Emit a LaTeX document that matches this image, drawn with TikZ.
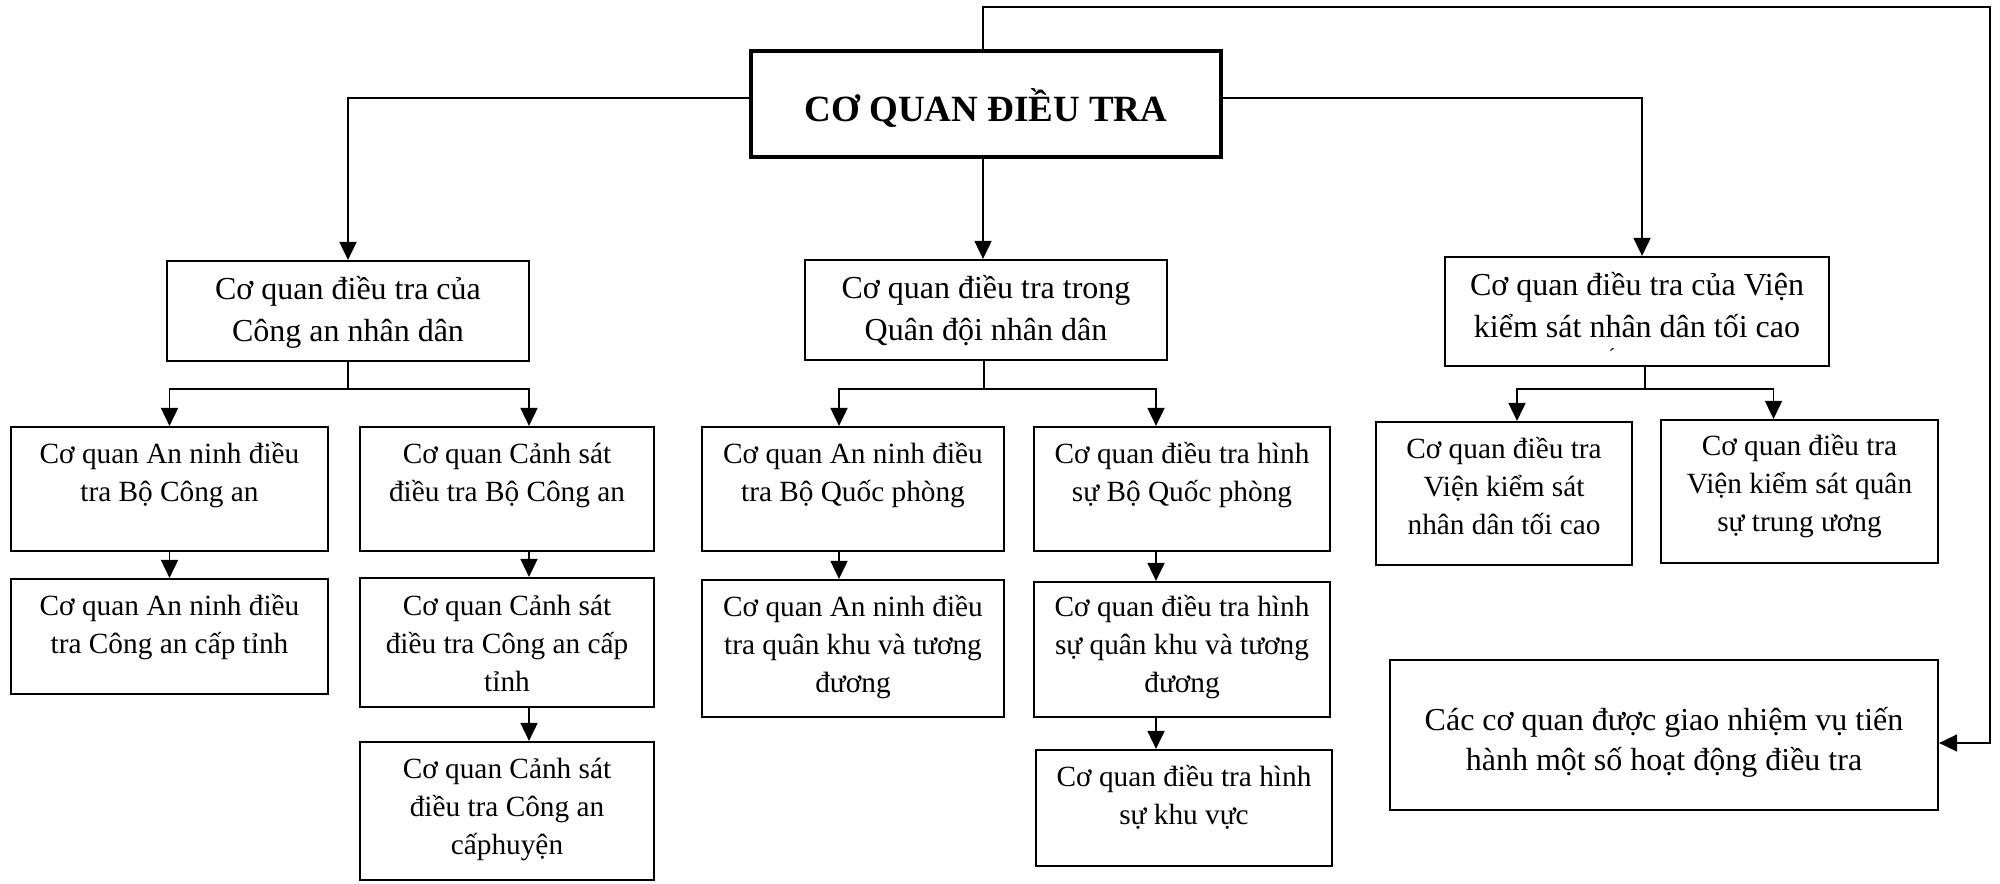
\documentclass[tikz,border=0pt]{standalone}
\usepackage{fontspec}
\setmainfont{Liberation Serif}
\usetikzlibrary{arrows.meta,fit}
\newcommand\ltwo{\fontsize{16pt}{21pt}\selectfont}
\newcommand\lthree{\fontsize{14.65pt}{19pt}\selectfont}
\newcommand\lf{\fontsize{16pt}{19.75pt}\selectfont}
\tikzset{
  bx/.style={draw, line width=1.1pt, inner sep=0pt},
  mainbx/.style={draw, line width=1.7pt, inner sep=0pt},
  tx/.style={anchor=base, inner sep=0pt},
  ln/.style={line width=0.9pt},
  arr/.style={line width=0.9pt, -{Triangle[length=9pt,width=8.5pt]}}
}
\begin{document}
\begin{tikzpicture}[x=0.5pt,y=-0.5pt]
\useasboundingbox (0,0) rectangle (2000,883);
% boxes
\node[mainbx, fit={(751,51) (1221,157)}] (main) {};
\node[bx, fit={(167,261) (529,361)}] (ca) {};
\node[bx, fit={(805,260) (1167,360)}] (qd) {};
\node[bx, fit={(1445,257) (1829,366)}] (vks) {};
\node[bx, fit={(11,427) (328,551)}] (a1) {};
\node[bx, fit={(11,579) (328,694)}] (a2) {};
\node[bx, fit={(360,427) (654,551)}] (b1) {};
\node[bx, fit={(360,578) (654,707)}] (b2) {};
\node[bx, fit={(360,742) (654,880)}] (b3) {};
\node[bx, fit={(702,427) (1004,551)}] (c1) {};
\node[bx, fit={(702,580) (1004,717)}] (c2) {};
\node[bx, fit={(1034,427) (1330,551)}] (d1) {};
\node[bx, fit={(1034,582) (1330,717)}] (d2) {};
\node[bx, fit={(1036,750) (1332,866)}] (d3) {};
\node[bx, fit={(1376,422) (1632,565)}] (e1) {};
\node[bx, fit={(1661,420) (1938,563)}] (e2) {};
\node[bx, fit={(1390,660) (1938,810)}] (f) {};
% texts
\node[tx, font=\bfseries\fontsize{18.5pt}{22pt}\selectfont] (maint) at ([yshift=-36pt]main.north) {CƠ QUAN ĐIỀU TRA};
\node[tx, font=\ltwo] (cat) at ([yshift=-20pt]ca.north) {\parbox[t]{280pt}{\centering Cơ quan điều tra của\\Công an nhân dân}};
\node[tx, font=\ltwo] (qdt) at ([yshift=-20pt]qd.north) {\parbox[t]{280pt}{\centering Cơ quan điều tra trong\\Quân đội nhân dân}};
\node[tx, font=\ltwo] (vkst) at ([yshift=-20pt]vks.north) {\parbox[t]{280pt}{\centering Cơ quan điều tra của Viện\\kiểm sát nhân dân tối cao}};
\node[inner sep=0pt, font=\fontsize{10pt}{11pt}\selectfont] (vksm) at (1612,356) {´};
\node[tx, font=\lthree] (a1t) at ([yshift=-19pt]a1.north) {\parbox[t]{280pt}{\centering Cơ quan An ninh điều\\tra Bộ Công an}};
\node[tx, font=\lthree] (a2t) at ([yshift=-19pt]a2.north) {\parbox[t]{280pt}{\centering Cơ quan An ninh điều\\tra Công an cấp tỉnh}};
\node[tx, font=\lthree] (b1t) at ([yshift=-19pt]b1.north) {\parbox[t]{280pt}{\centering Cơ quan Cảnh sát\\điều tra Bộ Công an}};
\node[tx, font=\lthree] (b2t) at ([yshift=-19.5pt]b2.north) {\parbox[t]{280pt}{\centering Cơ quan Cảnh sát\\điều tra Công an cấp\\tỉnh}};
\node[tx, font=\lthree] (b3t) at ([yshift=-19pt]b3.north) {\parbox[t]{280pt}{\centering Cơ quan Cảnh sát\\điều tra Công an\\cấphuyện}};
\node[tx, font=\lthree] (c1t) at ([yshift=-19pt]c1.north) {\parbox[t]{280pt}{\centering Cơ quan An ninh điều\\tra Bộ Quốc phòng}};
\node[tx, font=\lthree] (c2t) at ([yshift=-19pt]c2.north) {\parbox[t]{280pt}{\centering Cơ quan An ninh điều\\tra quân khu và tương\\đương}};
\node[tx, font=\lthree] (d1t) at ([yshift=-19pt]d1.north) {\parbox[t]{280pt}{\centering Cơ quan điều tra hình\\sự Bộ Quốc phòng}};
\node[tx, font=\lthree] (d2t) at ([yshift=-18pt]d2.north) {\parbox[t]{280pt}{\centering Cơ quan điều tra hình\\sự quân khu và tương\\đương}};
\node[tx, font=\lthree] (d3t) at ([yshift=-19pt]d3.north) {\parbox[t]{280pt}{\centering Cơ quan điều tra hình\\sự khu vực}};
\node[tx, font=\lthree] (e1t) at ([yshift=-19pt]e1.north) {\parbox[t]{280pt}{\centering Cơ quan điều tra\\Viện kiểm sát\\nhân dân tối cao}};
\node[tx, font=\lthree] (e2t) at ([yshift=-18.5pt]e2.north) {\parbox[t]{280pt}{\centering Cơ quan điều tra\\Viện kiểm sát quân\\sự trung ương}};
\node[tx, font=\lf] (ft) at ([yshift=-36pt]f.north) {\parbox[t]{300pt}{\centering Các cơ quan được giao nhiệm vụ tiến\\hành một số hoạt động điều tra}};
% connectors from main
\draw[arr] ([yshift=3pt]main.west) -| (ca.north);
\draw[arr] ([xshift=-1.5pt]main.south) -- ([xshift=-1.5pt]qd.north);
\draw[arr] ([yshift=3pt]main.east) -| ([xshift=2.5pt]vks.north);
\coordinate (loopb) at (1990,7);
\draw[arr] ([xshift=-1.5pt]main.north) |- (loopb) |- ([yshift=-4pt]f.east);
% CA branch
\coordinate (caj) at (348,389);
\draw[ln] (ca.south) -- (caj);
\draw[arr] (caj) -| (a1.north);
\draw[arr] (caj) -| ([xshift=11pt]b1.north);
\draw[arr] (a1.south) -- (a1.south |- a2.north);
\draw[arr] ([xshift=11pt]b1.south) -- ([xshift=11pt]b2.north);
\draw[arr] ([xshift=11pt]b2.south) -- ([xshift=11pt]b3.north);
% QD branch
\coordinate (qdj) at (984,389);
\draw[ln] ([xshift=-1pt]qd.south) -- (qdj);
\draw[arr] (qdj) -| ([xshift=-7pt]c1.north);
\draw[arr] (qdj) -| ([xshift=-13pt]d1.north);
\draw[arr] ([xshift=-7pt]c1.south) -- ([xshift=-7pt]c2.north);
\draw[arr] ([xshift=-13pt]d1.south) -- ([xshift=-13pt]d2.north);
\draw[arr] ([xshift=-13pt]d2.south) -- ([xshift=-13pt]d2.south |- d3.north);
% VKS branch
\coordinate (vksj) at (1645,389);
\draw[ln] ([xshift=4pt]vks.south) -- (vksj);
\draw[arr] (vksj) -| ([xshift=6.5pt]e1.north);
\draw[arr] (vksj) -| ([xshift=-13pt]e2.north);
\end{tikzpicture}
\end{document}
